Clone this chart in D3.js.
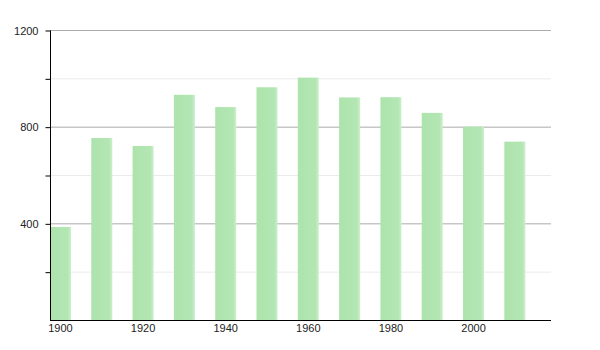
<!DOCTYPE html>
<html lang="en">
<head>
  <meta charset="UTF-8">
  <title>Bar Chart</title>
  <script src="https://d3js.org/d3.v7.min.js"></script>
  <style>
    body { margin: 0; background: #fff; }
    text { font-family: "Liberation Sans", Arial, sans-serif; font-size: 11px; fill: #222; }
  </style>
</head>
<body>
<div class="main"></div>
<script>
  // data
  var years = [1900, 1910, 1920, 1930, 1940, 1950, 1960, 1970, 1980, 1990, 2000, 2010];
  var values = [385, 753, 720, 932, 881, 963, 1003, 921, 922, 857, 800, 738];
  var yTicks = [400, 800, 1200];
  var yMinor = [200, 600, 1000];
  var xLabels = [1900, 1920, 1940, 1960, 1980, 2000];

  let width = 600;
  let height = 350;
  let mLeft = 50, mRight = 551, mTop = 30, mBottom = 320;
  let barW = 21;

  let svg = d3.select(".main").append("svg").attr("width", width).attr("height", height).style("display", "block");

  let x = d3.scaleLinear().domain([1900, 2021.3]).range([mLeft, mRight]);
  let y = d3.scaleLinear().domain([0, 1200]).range([mBottom, mTop]);

  // gradient to soften bar edges
  let grad = svg.append("defs").append("linearGradient").attr("id", "barGrad");
  grad.append("stop").attr("offset", "0%").attr("stop-color", "#ade3ad");
  grad.append("stop").attr("offset", "85%").attr("stop-color", "#b3e6b3");
  grad.append("stop").attr("offset", "100%").attr("stop-color", "#cdf0cd");

  // minor gridlines
  svg.selectAll(".minor").data(yMinor).enter().append("line")
    .attr("x1", mLeft).attr("x2", mRight)
    .attr("y1", d => y(d) + 0.5).attr("y2", d => y(d) + 0.5)
    .style("stroke", "#ebebeb");

  // major gridlines
  svg.selectAll(".major").data(yTicks).enter().append("line")
    .attr("x1", mLeft).attr("x2", mRight)
    .attr("y1", d => y(d) + 0.5).attr("y2", d => y(d) + 0.5)
    .style("stroke", "#aaa");

  // bars
  svg.selectAll(".bar").data(years).enter().append("rect")
    .attr("x", (d) => x(d))
    .attr("y", (d, i) => y(values[i]))
    .attr("width", barW)
    .attr("height", (d, i) => mBottom - y(values[i]))
    .style("fill", "url(#barGrad)");

  // y axis
  let yAxis = d3.axisLeft(y).tickValues(yTicks.concat(yMinor)).tickSize(5)
    .tickFormat(d => yTicks.includes(d) ? d : "");
  let gy = svg.append("g").attr("transform", "translate(" + (mLeft + 0.5) + ",0.5)").call(yAxis);
  gy.select(".domain").attr("d", "M0," + mTop + "V" + mBottom).style("stroke", "#000");
  gy.selectAll(".tick line").style("stroke", "#000");
  gy.selectAll(".tick text").attr("x", -12).style("font-size", "11px");

  // x axis
  svg.append("line").attr("x1", mLeft).attr("x2", mRight)
    .attr("y1", mBottom + 0.5).attr("y2", mBottom + 0.5).style("stroke", "#000");

  svg.selectAll(".xlabel").data(xLabels).enter().append("text")
    .attr("x", d => x(d) + barW / 2)
    .attr("y", mBottom + 12)
    .attr("text-anchor", "middle")
    .text(d => d);
</script>
</body>
</html>
